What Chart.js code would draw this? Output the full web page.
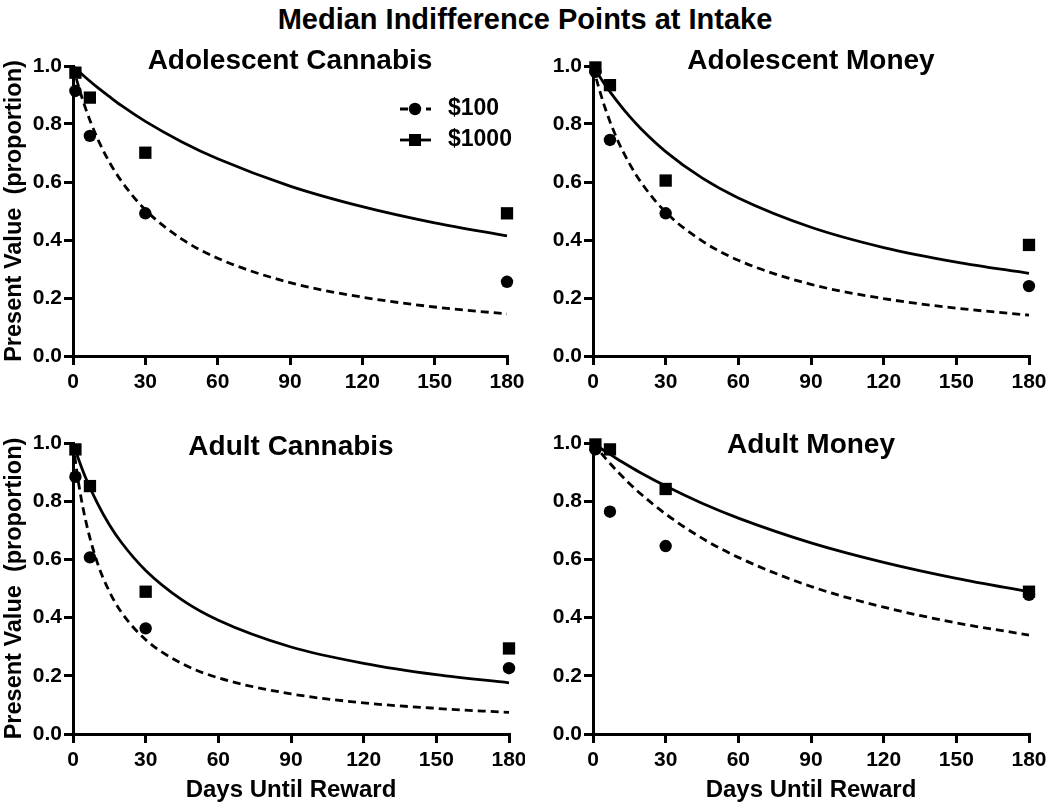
<!DOCTYPE html>
<html>
<head>
<meta charset="utf-8">
<script src="https://cdn.jsdelivr.net/npm/chart.js@4.4.1/dist/chart.umd.min.js"></script>
<style>
  body { margin: 0; background: #fff; width: 1050px; height: 805px; position: relative; overflow: hidden;
         font-family: "Liberation Sans", Arial, sans-serif; }
  #title { position: absolute; left: 0; top: 3px; width: 1050px; text-align: center;
           font-weight: bold; font-size: 29px; color: #000; }
  canvas { position: absolute; }
</style>
</head>
<body>
<div id="title">Median Indifference Points at Intake</div>
<canvas id="c1" width="525" height="365" style="left:0;top:40px"></canvas>
<canvas id="c2" width="525" height="365" style="left:525px;top:40px"></canvas>
<canvas id="c3" width="525" height="395" style="left:0;top:410px"></canvas>
<canvas id="c4" width="525" height="395" style="left:525px;top:410px"></canvas>
<script>
// ═══════════════════════════════════════
//  DATA
// ═══════════════════════════════════════

const delays    = [1, 7, 30, 180];
const fitDelays = [0, 2, 5, 10, 15, 20, 30, 45, 60, 90, 120, 150, 180];
const xTicks    = [0, 30, 60, 90, 120, 150, 180];
const yTicks    = [0.0, 0.2, 0.4, 0.6, 0.8, 1.0];

// Adolescent Cannabis
const adolCannabis100     = [0.914, 0.759, 0.492, 0.256];
const adolCannabis1000    = [0.977, 0.891, 0.701, 0.492];
const adolCannabisFit100  = [1.0, 0.938, 0.859, 0.753, 0.670, 0.604, 0.504, 0.404, 0.337, 0.253, 0.203, 0.169, 0.145];
const adolCannabisFit1000 = [1.0, 0.984, 0.962, 0.927, 0.895, 0.864, 0.809, 0.739, 0.680, 0.586, 0.515, 0.459, 0.414];

// Adolescent Money
const adolMoney100     = [0.980, 0.745, 0.492, 0.241];
const adolMoney1000    = [0.995, 0.934, 0.605, 0.383];
const adolMoneyFit100  = [1.0, 0.937, 0.855, 0.747, 0.664, 0.597, 0.496, 0.397, 0.330, 0.247, 0.198, 0.165, 0.141];
const adolMoneyFit1000 = [1.0, 0.973, 0.935, 0.878, 0.827, 0.782, 0.705, 0.614, 0.545, 0.444, 0.374, 0.324, 0.285];

// Adult Cannabis
const adultCannabis100     = [0.884, 0.607, 0.363, 0.226];
const adultCannabis1000    = [0.978, 0.852, 0.489, 0.294];
const adultCannabisFit100  = [1.0, 0.878, 0.742, 0.590, 0.490, 0.418, 0.324, 0.242, 0.193, 0.138, 0.107, 0.088, 0.074];
const adultCannabisFit1000 = [1.0, 0.951, 0.885, 0.794, 0.719, 0.658, 0.562, 0.461, 0.391, 0.299, 0.243, 0.204, 0.176];

// Adult Money
const adultMoney100     = [0.978, 0.764, 0.646, 0.478];
const adultMoney1000    = [0.995, 0.978, 0.842, 0.489];
const adultMoneyFit100  = [1.0, 0.979, 0.949, 0.903, 0.861, 0.823, 0.756, 0.673, 0.607, 0.507, 0.436, 0.382, 0.340];
const adultMoneyFit1000 = [1.0, 0.988, 0.972, 0.945, 0.920, 0.896, 0.852, 0.793, 0.742, 0.657, 0.590, 0.535, 0.489];

const FONT = '"Liberation Sans", Arial, sans-serif';

// ═══════════════════════════════════════
//  PLUGINS : titre de panneau + légende
// ═══════════════════════════════════════

const panelTitle = {
  id: 'panelTitle',
  afterDraw(chart, args, opts) {
    const { ctx, chartArea } = chart;
    ctx.save();
    ctx.font = `bold 28px ${FONT}`;
    ctx.fillStyle = '#000';
    ctx.textAlign = 'center';
    ctx.textBaseline = 'middle';
    ctx.fillText(opts.text, (chartArea.left + chartArea.right) / 2, chartArea.top + opts.offset);
    ctx.restore();
  }
};

const seriesLegend = {
  id: 'seriesLegend',
  afterDraw(chart, args, opts) {
    if (!opts.show) return;
    const { ctx } = chart;
    const rows = [
      { y: 69,  text: '$100',  dash: [8, 5], marker: 'circle' },
      { y: 100, text: '$1000', dash: [],     marker: 'rect' }
    ];
    ctx.save();
    rows.forEach(r => {
      ctx.strokeStyle = '#000';
      ctx.lineWidth = 2.8;
      ctx.setLineDash(r.dash);
      ctx.beginPath();
      ctx.moveTo(400, r.y);
      ctx.lineTo(431, r.y);
      ctx.stroke();
      ctx.setLineDash([]);
      ctx.fillStyle = '#000';
      if (r.marker === 'circle') {
        ctx.beginPath();
        ctx.arc(415, r.y, 6.2, 0, Math.PI * 2);
        ctx.fill();
      } else {
        ctx.fillRect(409, r.y - 6, 12, 12);
      }
      ctx.font = `bold 23px ${FONT}`;
      ctx.textAlign = 'left';
      ctx.textBaseline = 'middle';
      ctx.fillText(r.text, 448, r.y);
    });
    ctx.restore();
  }
};

// ═══════════════════════════════════════
//  PANNEAU
// ═══════════════════════════════════════

function makePanel(p) {
  const ctx = document.getElementById(p.id).getContext('2d');
  const pts = vals => delays.map((d, i) => ({ x: d, y: vals[i] }));
  const fit = vals => fitDelays.map((d, i) => ({ x: d, y: vals[i] }));

  return new Chart(ctx, {
    type: 'scatter',
    data: {
      datasets: [
        {
          label: '$1000',
          data: pts(p.v1000),
          pointStyle: 'rect',
          pointRadius: 8.7,
          backgroundColor: '#000',
          borderWidth: 0,
          clip: false,
          order: 0
        },
        {
          label: '$100',
          data: pts(p.v100),
          pointStyle: 'circle',
          pointRadius: 6.2,
          backgroundColor: '#000',
          borderWidth: 0,
          clip: false,
          order: 1
        },
        {
          label: 'fit $1000',
          data: fit(p.fit1000),
          showLine: true,
          pointRadius: 0,
          borderColor: '#000',
          borderWidth: 2.8,
          cubicInterpolationMode: 'monotone',
          clip: false,
          order: 2
        },
        {
          label: 'fit $100',
          data: fit(p.fit100),
          showLine: true,
          pointRadius: 0,
          borderColor: '#000',
          borderWidth: 2.8,
          borderDash: [8, 5],
          cubicInterpolationMode: 'monotone',
          clip: false,
          order: 3
        }
      ]
    },
    options: {
      responsive: false,
      animation: false,
      events: [],
      layout: { padding: { top: p.padTop, right: p.padRight, left: 0, bottom: 0 } },
      plugins: {
        legend: { display: false },
        tooltip: { enabled: false },
        panelTitle: { text: p.title, offset: p.titleOffset },
        seriesLegend: { show: !!p.legend }
      },
      scales: {
        x: {
          type: 'linear',
          min: 0,
          max: 180,
          afterBuildTicks: s => { s.ticks = xTicks.map(v => ({ value: v })); },
          afterFit: s => { s.height = p.xHeight; s.paddingLeft = 0; s.paddingRight = 0; },
          ticks: { color: '#000', font: { family: FONT, size: 21, weight: 'bold' }, padding: 5 },
          grid: { drawOnChartArea: false, drawTicks: true, tickLength: 9, color: '#000', lineWidth: 3 },
          border: { display: true, color: '#000', width: 3 },
          title: {
            display: !!p.xTitle,
            text: 'Days Until Reward',
            color: '#000',
            font: { family: FONT, size: 24, weight: 'bold' },
            padding: { top: 0, bottom: 0 }
          }
        },
        y: {
          min: 0,
          max: 1,
          afterBuildTicks: s => { s.ticks = yTicks.map(v => ({ value: v })); },
          afterFit: s => { s.width = p.yWidth; s.paddingTop = 0; s.paddingBottom = 0; },
          ticks: {
            color: '#000',
            font: { family: FONT, size: 21, weight: 'bold' },
            padding: 2,
            callback: v => v.toFixed(1)
          },
          grid: { drawOnChartArea: false, drawTicks: true, tickLength: 9, color: '#000', lineWidth: 3 },
          border: { display: true, color: '#000', width: 3 },
          title: {
            display: !!p.yTitle,
            text: 'Present Value  (proportion)',
            color: '#000',
            font: { family: FONT, size: 23.5, weight: 'bold' },
            padding: { top: 0, bottom: 0 }
          }
        }
      }
    },
    plugins: [panelTitle, seriesLegend]
  });
}

makePanel({
  id: 'c1', title: 'Adolescent Cannabis', titleOffset: -5, legend: true,
  v100: adolCannabis100, v1000: adolCannabis1000,
  fit100: adolCannabisFit100, fit1000: adolCannabisFit1000,
  padTop: 26, padRight: 18, yWidth: 73, xHeight: 49, yTitle: true
});
makePanel({
  id: 'c2', title: 'Adolescent Money', titleOffset: -5,
  v100: adolMoney100, v1000: adolMoney1000,
  fit100: adolMoneyFit100, fit1000: adolMoneyFit1000,
  padTop: 26, padRight: 21, yWidth: 68, xHeight: 49
});
makePanel({
  id: 'c3', title: 'Adult Cannabis', titleOffset: 4,
  v100: adultCannabis100, v1000: adultCannabis1000,
  fit100: adultCannabisFit100, fit1000: adultCannabisFit1000,
  padTop: 33, padRight: 16, yWidth: 73, xHeight: 71, yTitle: true, xTitle: true
});
makePanel({
  id: 'c4', title: 'Adult Money', titleOffset: 2,
  v100: adultMoney100, v1000: adultMoney1000,
  fit100: adultMoneyFit100, fit1000: adultMoneyFit1000,
  padTop: 33, padRight: 21, yWidth: 68, xHeight: 71, xTitle: true
});
</script>
</body>
</html>
